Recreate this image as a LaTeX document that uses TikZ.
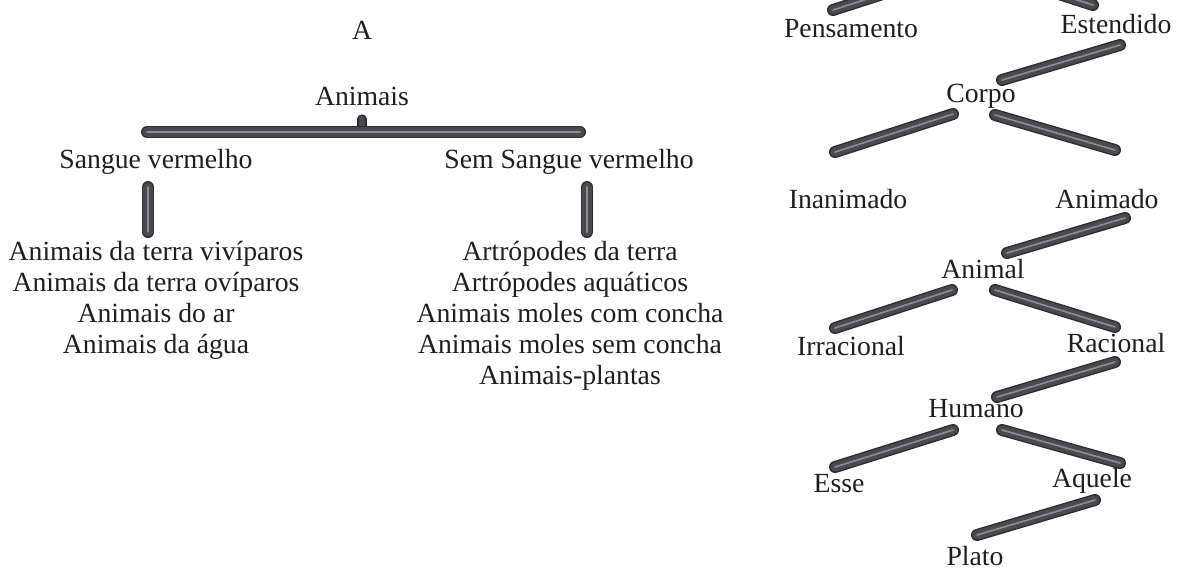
\documentclass[tikz,border=0pt]{standalone}
\usepackage{fontspec}
\setmainfont{Liberation Serif}
\usepackage{xcolor}
\usepackage{tikz}
\definecolor{barcore}{HTML}{4A4A4F}
\definecolor{baredge}{HTML}{2C2C30}
\definecolor{barshine}{HTML}{8E8E94}
\definecolor{inkgray}{HTML}{1E1E1E}

\begin{document}
\begin{tikzpicture}[
  x=0.5pt, y=-0.5pt,
  every node/.style={font=\fontsize{13.85pt}{15.5pt}\selectfont, text=inkgray},
  lbl/.style={anchor=base, inner sep=0pt},
  catlist/.style={anchor=north, inner sep=0pt, align=center},
  bar/.style={line width=6pt, line cap=round, draw=baredge,
    postaction={draw=barcore, line width=4.6pt},
    postaction={draw=barshine, line width=0.8pt}},
  knob/.style={line width=4.6pt, line cap=round, draw=baredge,
    postaction={draw=barcore, line width=3.2pt}}
]
\useasboundingbox (0,0) rectangle (1183,569);
\clip (0,0) rectangle (1183,569);

\node[lbl] (titleA) at (362,39) {A};
\node[lbl] (animais) at (362,105) {Animais};
\node[lbl] (sangue) at (156,168) {Sangue vermelho};
\node[lbl] (semsangue) at (569,168) {Sem Sangue vermelho};
\node[catlist] (listA) at (156,241) {Animais da terra vivíparos\\Animais da terra ovíparos\\Animais do ar\\Animais da água};
\node[catlist] (listB) at (570,241) {Artrópodes da terra\\Artrópodes aquáticos\\Animais moles com concha\\Animais moles sem concha\\Animais-plantas};
\coordinate (split) at (362,132);

\coordinate (substL) at (951,-28);
\coordinate (substR) at (975,-33);
\node[lbl] (pensamento) at (851,37) {Pensamento};
\node[lbl] (estendido) at (1116,33) {Estendido};
\node[lbl] (corpo) at (981,102) {Corpo};
\node[lbl] (inanimado) at (848,208) {Inanimado};
\node[lbl] (animado) at (1107,208) {Animado};
\node[lbl] (animal) at (983,278) {Animal};
\node[lbl] (irracional) at (851,355) {Irracional};
\node[lbl] (racional) at (1116,352) {Racional};
\node[lbl] (humano) at (976,417) {Humano};
\node[lbl] (esse) at (839,492) {Esse};
\node[lbl] (aquele) at (1092,487) {Aquele};
\node[lbl] (plato) at (975,565) {Plato};

\draw[knob] ([shift={(0,14)}]animais.base) -- (split);
\draw[bar] ([shift={(-9,-36)}]sangue.base) -- ([shift={(11,-36)}]semsangue.base);
\draw[bar] ([shift={(-8,19)}]sangue.base) -- ([shift={(-8,-9)}]listA.north);
\draw[bar] ([shift={(18,19)}]semsangue.base) -- ([shift={(17,-9)}]listB.north);

\draw[bar] (substL) -- ([shift={(-18,-27)}]pensamento.base);
\draw[bar] (substR) -- ([shift={(-23,-28)}]estendido.base);
\draw[bar] ([shift={(4,12)}]estendido.base) -- ([shift={(21,-22)}]corpo.base);
\draw[bar] ([shift={(-28,12)}]corpo.base) -- ([shift={(-13,-56)}]inanimado.base);
\draw[bar] ([shift={(14,13)}]corpo.base) -- ([shift={(8,-58)}]animado.base);
\draw[bar] ([shift={(18,10)}]animado.base) -- ([shift={(24,-25)}]animal.base);
\draw[bar] ([shift={(-31,12)}]animal.base) -- ([shift={(-16,-27)}]irracional.base);
\draw[bar] ([shift={(12,12)}]animal.base) -- ([shift={(-1,-25)}]racional.base);
\draw[bar] ([shift={(-1,10)}]racional.base) -- ([shift={(21,-20)}]humano.base);
\draw[bar] ([shift={(-23,13)}]humano.base) -- ([shift={(-4,-25)}]esse.base);
\draw[bar] ([shift={(26,13)}]humano.base) -- ([shift={(28,-24)}]aquele.base);
\draw[bar] ([shift={(3,13)}]aquele.base) -- ([shift={(2,-30)}]plato.base);
\end{tikzpicture}
\end{document}
